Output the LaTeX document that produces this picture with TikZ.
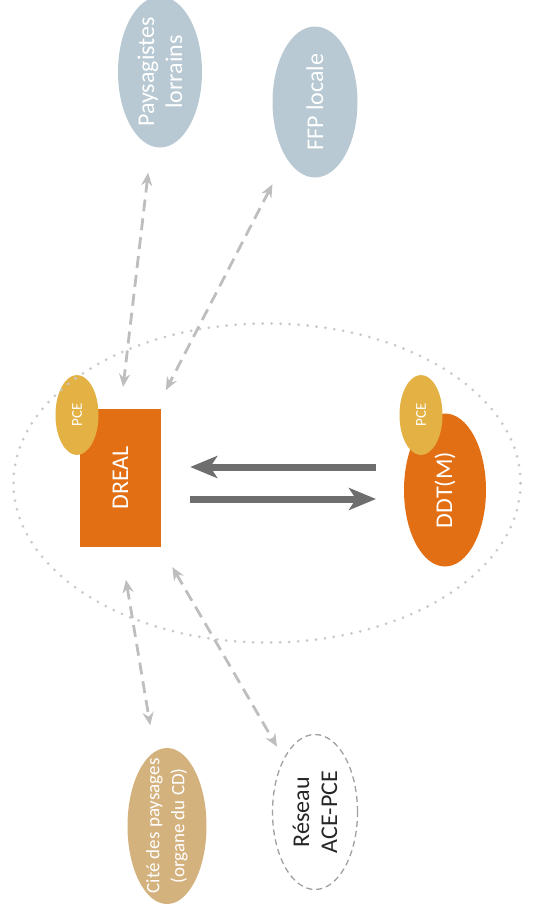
\documentclass[tikz,border=0pt]{standalone}
\usepackage{fontspec}
\setmainfont{Carlito}
\usepackage{graphicx,xcolor}
\definecolor{ptblue}{RGB}{184,201,211}
\definecolor{pttan}{RGB}{212,178,126}
\definecolor{ptorange}{RGB}{227,111,20}
\definecolor{ptyellow}{RGB}{227,177,68}
\definecolor{ptgray}{RGB}{110,110,110}
\definecolor{ptlight}{RGB}{190,190,190}
\definecolor{ptdot}{RGB}{200,200,200}
\definecolor{ptdash}{RGB}{160,160,160}
\usetikzlibrary{arrows.meta,positioning,shapes.geometric}

\tikzset{
  partner/.style={ellipse, inner sep=0pt, outer sep=0pt, minimum width=84pt, minimum height=151pt},
  labeltext/.style={rotate=90, align=center, text=white, font=\fontsize{24}{28}\selectfont},
  pcetext/.style={rotate=90, text=white, font=\fontsize{15}{17}\selectfont},
  link/.style={draw=ptlight, line width=2.8pt, dash pattern=on 12pt off 7pt,
    {Stealth[length=13pt,width=11pt]}-{Stealth[length=13pt,width=11pt]}},
  flow/.style={draw=ptgray, line width=7pt, -{Stealth[length=27pt,width=22pt,inset=7pt]}}
}

\begin{document}
\begin{tikzpicture}[x=1pt, y=-1pt]
  \useasboundingbox (0,0) rectangle (547,910);

  % partners outside
  \node[partner, fill=ptblue, label={[labeltext]center:Paysagistes\\lorrains}] (pays) at (160,72) {};
  \node[partner, fill=ptblue, minimum width=85pt, label={[labeltext]center:FFP locale}] (ffp) at (315,102) {};
  \node[partner, fill=pttan, minimum width=79pt, minimum height=156pt,
    label={[labeltext, font=\fontsize{19}{25}\selectfont]center:Cité des paysages\\(organe du CD)}] (cite) at (167,826) {};
  \node[partner, fill=white, draw=ptdash, line width=1.3pt, dash pattern=on 6pt off 4pt, minimum width=85pt, minimum height=155pt,
    label={[labeltext, text=black!85]center:Réseau\\ACE-PCE}] (reseau) at (315,812) {};

  % services
  \node[fill=ptorange, inner sep=0pt, minimum width=81pt, minimum height=138pt, label={[labeltext]center:DREAL}] (dreal) at (120.5,478) {};
  \node[partner, fill=ptorange, minimum width=82pt, minimum height=153pt, label={[labeltext]center:DDT(M)}] (ddt) at (445,490) {};
  \node[partner, fill=ptyellow, minimum width=43pt, minimum height=80pt, label={[pcetext]center:PCE}] (pcea) at (77,415) {};
  \node[partner, fill=ptyellow, minimum width=43pt, minimum height=80pt, label={[pcetext]center:PCE}] (pceb) at (421,415) {};

  \node[ellipse, draw=ptdot, line width=3pt, line cap=round, dash pattern=on 0pt off 9pt, minimum width=507pt, minimum height=319pt] (zone) at (267,483) {};

  % exchanges
  \draw[flow, shorten <=28pt, shorten >=29pt] ([yshift=23pt]ddt.west) -- ([yshift=11pt]dreal.east);
  \draw[flow, shorten <=29pt, shorten >=28pt] ([yshift=-21pt]dreal.east) -- ([yshift=-9pt]ddt.west);

  \draw[link, shorten <=27pt, shorten >=22pt] (pays) -- (dreal.north);
  \draw[link, shorten <=30pt, shorten >=21pt] (ffp) -- (dreal);
  \draw[link, shorten <=33pt, shorten >=27pt] (dreal.south) -- (cite);
  \draw[link, shorten <=23pt, shorten >=14pt] (dreal) -- (reseau);
\end{tikzpicture}
\end{document}
